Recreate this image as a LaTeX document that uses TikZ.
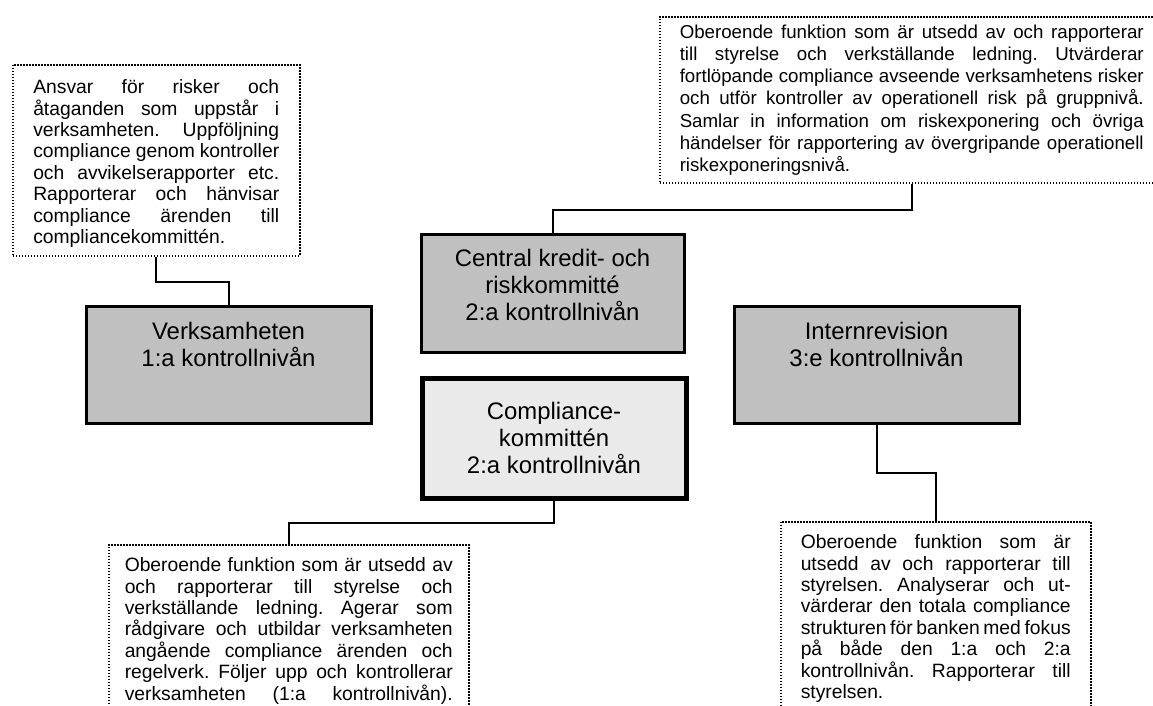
\documentclass[tikz,border=0pt]{standalone}
\usepackage{fontspec}
\setmainfont{Liberation Sans}
\usepackage{tikz}
\definecolor{levelgray}{RGB}{192,192,192}
\definecolor{compgray}{RGB}{234,234,234}
\newcommand{\notefont}{\fontsize{19.3}{21.4}\selectfont}
\newcommand{\smallnotefont}{\fontsize{18.7}{22.2}\selectfont}
\newcommand{\levelfont}{\fontsize{23.9}{27}\selectfont}
\newcommand{\levellines}[3]{\parbox[t][#1][t]{#2}{\centering #3}}
\newcommand{\notelines}[3]{\parbox[t][#1][t]{#2}{\frenchspacing\tolerance=10000\hyphenpenalty=10000 #3}}

\begin{document}
\begin{tikzpicture}[x=1pt, y=-1pt,
                    note/.style={draw, line width=1.5pt, dash pattern=on 1.5pt off 1.5pt, inner xsep=20.5pt, anchor=north west, font=\notefont},
                    level/.style={draw, line width=3pt, fill=levelgray, inner xsep=0pt, anchor=north west, font=\levelfont},
                    link/.style={line width=2pt}]
                        \useasboundingbox (0,0) rectangle (1153,705);
                        \fill[white] (0,0) rectangle (1153,705);

                        \node[note, inner ysep=15pt] (tlnote) at (12,64) {\notelines{161pt}{246pt}{Ansvar för risker och\linebreak
                            åtaganden som uppstår i\linebreak
                            verksamheten. Uppföljning\linebreak
                            compliance genom kontroller\linebreak
                            och avvikelserapporter etc.\linebreak
                            Rapporterar och hänvisar\linebreak
                            compliance ärenden till\linebreak
                            compliancekommittén.}};
                        \node[note, font=\smallnotefont, inner xsep=20pt, inner ysep=8pt] (trnote) at (659,16) {\notelines{150pt}{464pt}{Oberoende funktion som är utsedd av och rapporterar\linebreak
                            till styrelse och verkställande ledning. Utvärderar\linebreak
                            fortlöpande compliance avseende verksamhetens risker\linebreak
                            och utför kontroller av operationell risk på gruppnivå.\linebreak
                            Samlar in information om riskexponering och övriga\linebreak
                            händelser för rapportering av övergripande operationell\linebreak
                            riskexponeringsnivå.}};

                        \node[level, inner ysep=15.6pt] (central) at (419.5,232.5) {\levellines{86.8pt}{263pt}{Central kredit- och\\ riskkommitté\\ 2:a kontrollnivån}};
                        \node[level, inner ysep=16.5pt] (verks) at (84.5,304.5) {\levellines{84pt}{285pt}{Verksamheten\\ 1:a kontrollnivån}};
                        \node[level, inner ysep=16.5pt] (intern) at (732.5,304.5) {\levellines{84pt}{285pt}{Internrevision\\ 3:e kontrollnivån}};
                        \node[level, line width=5pt, fill=compgray, inner sep=0pt, minimum width=264pt, minimum height=120pt, align=center] (comp) at (419.5,375.5) {Compliance-\\ kommittén\\ 2:a kontrollnivån};

                        \node[note, inner xsep=16pt, inner ysep=13pt] (blnote) at (108,544) {\notelines{200pt}{328pt}{\parfillskip=0pt Oberoende funktion som är utsedd av\linebreak
                            och rapporterar till styrelse och\linebreak
                            verkställande ledning. Agerar som\linebreak
                            rådgivare och utbildar verksamheten\linebreak
                            angående compliance ärenden och\linebreak
                            regelverk. Följer upp och kontrollerar\linebreak
                            verksamheten (1:a kontrollnivån).}};
                        \node[note, inner xsep=20pt, inner ysep=13pt] (brnote) at (780,521) {\notelines{200pt}{270pt}{Oberoende funktion som är\linebreak
                            utsedd av och rapporterar till\linebreak
                            styrelsen. Analyserar och ut-\linebreak
                            värderar den totala compliance\linebreak
                            strukturen för banken med fokus\linebreak
                            på både den 1:a och 2:a\linebreak
                            kontrollnivån. Rapporterar till\linebreak
                            styrelsen.}};

                        \draw[link] (tlnote.south) -- ++(0,25) -| (verks.north);
                        \draw[link] (central.north) -- ++(0,-23) -| (trnote.south);
                        \draw[link] (comp.south) -- ++(0,22) -| (blnote.north);
                        \draw[link] (intern.south) -- ++(0,48) -| (brnote.north);
                    \end{tikzpicture}
\end{document}
